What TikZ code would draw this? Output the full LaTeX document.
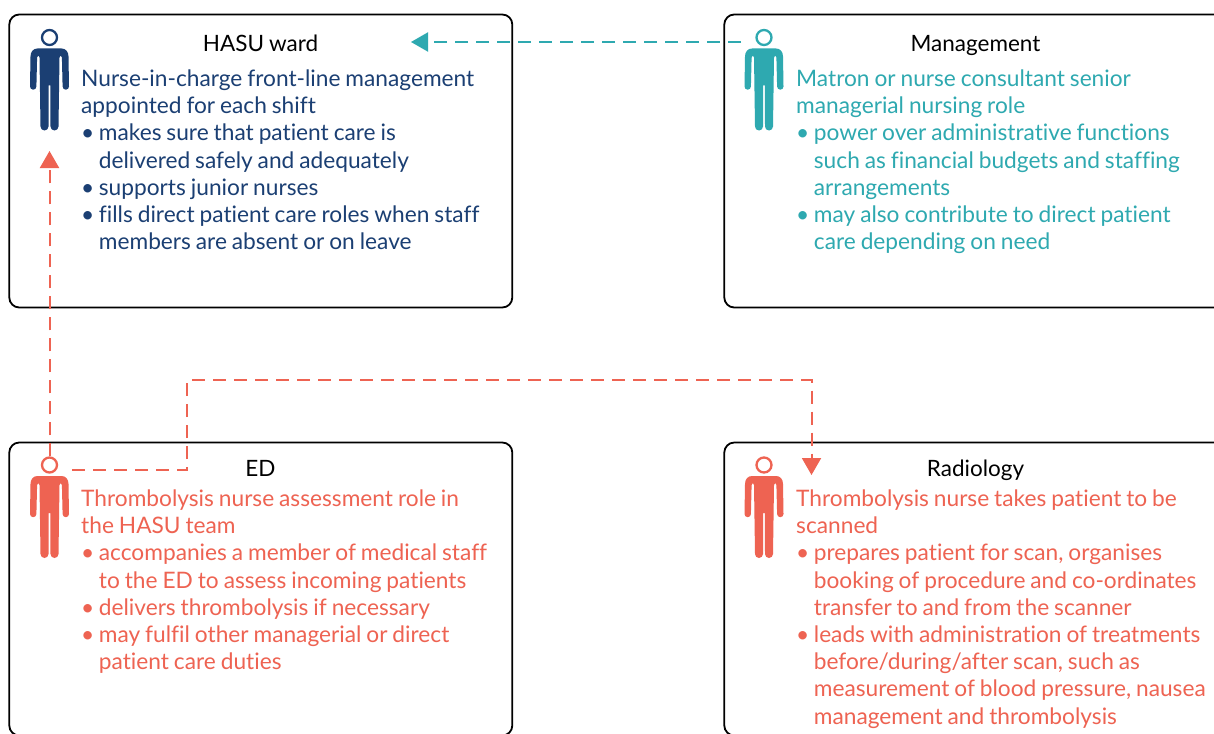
\documentclass[tikz,border=0pt]{standalone}
\usepackage{fontspec}
\setmainfont{Lato}[WordSpace=0.85,Ligatures=CommonOff]
\usetikzlibrary{arrows.meta}

\definecolor{navy}{HTML}{1B3F73}
\definecolor{teal}{HTML}{2EA9B0}
\definecolor{coral}{HTML}{EE6352}

\newcommand{\itm}{\makebox[17.7pt][l]{\textbullet}}
\newcommand{\cnt}{\hspace*{17.7pt}}

\tikzset{
  panel/.style={draw=black, fill=white, line width=1.8pt, rounded corners=10pt,
    minimum width=503pt, minimum height=293pt, anchor=north west},
  title/.style={text=black, anchor=base, font=\fontsize{22.5}{27.2}\selectfont},
  body/.style={anchor=north west, align=left, inner sep=0pt, font=\fontsize{22.7}{27.2}\selectfont},
  link/.style={line width=2pt, dash pattern=on 13pt off 8pt, -{Triangle[width=19pt,length=17pt]}},
  nurse/.pic={
    \node[circle, draw, line width=2.3pt, minimum size=15pt, inner sep=0pt] (-head) at (0,0) {};
    \fill (-19.5,49) -- (-19,19) .. controls (-19,14) and (-16,11) .. (-12,11)
      -- (12,11) .. controls (16,11) and (19,14) .. (19,19)
      -- (19.5,49) arc (0:180:3.2) -- (12.4,20) -- (11.2,18) -- (10,20)
      -- (9,89) arc (0:180:4) -- (0.8,48) -- (-0.8,48)
      -- (-1,89) arc (0:180:4) -- (-10,20) -- (-11.2,18) -- (-12.4,20)
      -- (-13.1,49) arc (0:180:3.2) -- cycle;
  }
}

\begin{document}
\begin{tikzpicture}[x=1pt, y=-1pt]
  \useasboundingbox (0,0) rectangle (1214,733);

  % boxes
  \node[panel] (hasu) at (8.4,13.6) {};
  \node[panel] (mgmt) at (723.4,13.6) {};
  \node[panel] (ed) at (8.4,441.6) {};
  \node[panel] (rad) at (723.4,441.6) {};

  \node[title] (hasuTitle) at (260.5,51.4) {HASU ward};
  \node[title] (mgmtTitle) at (975.5,51.4) {Management};
  \node[title] (edTitle) at (260.5,476) {ED};
  \node[title] (radTitle) at (975.5,476) {Radiology};

  % nurses
  \pic[navy] (hasuNurse) at (49.5,37.5) {nurse};
  \pic[teal] (mgmtNurse) at (764,37.5) {nurse};
  \pic[coral] (edNurse) at (49.5,465) {nurse};
  \pic[coral] (radNurse) at (764,465) {nurse};

  % text
  \node[body, text=navy] (hasuText) at (81,69.5) {Nurse-in-charge front-line management\\
    appointed for each shift\\
    \itm makes sure that patient care is\\
    \cnt delivered safely and adequately\\
    \itm supports junior nurses\\
    \itm fills direct patient care roles when staff\\
    \cnt members are absent or on leave};
  \node[body, text=teal] (mgmtText) at (796,69.5) {Matron or nurse consultant senior\\
    managerial nursing role\\
    \itm power over administrative functions\\
    \cnt such as financial budgets and staffing\\
    \cnt arrangements\\
    \itm may also contribute to direct patient\\
    \cnt care depending on need};
  \node[body, text=coral] (edText) at (81,489.5) {Thrombolysis nurse assessment role in\\
    the HASU team\\
    \itm accompanies a member of medical staff\\
    \cnt to the ED to assess incoming patients\\
    \itm delivers thrombolysis if necessary\\
    \itm may fulfil other managerial or direct\\
    \cnt patient care duties};
  \node[body, text=coral] (radText) at (796,489.5) {Thrombolysis nurse takes patient to be\\
    scanned\\
    \itm prepares patient for scan, organises\\
    \cnt booking of procedure and co-ordinates\\
    \cnt transfer to and from the scanner\\
    \itm leads with administration of treatments\\
    \cnt before/during/after scan, such as\\
    \cnt measurement of blood pressure, nausea\\
    \cnt management and thrombolysis};

  % links
  \coordinate (mgmtOut) at (741,42);
  \coordinate (hasuIn) at (411,42);
  \coordinate (hasuUp) at (49.5,151);
  \coordinate (edOut) at (72,470);
  \coordinate (edBend) at (187,380);
  \coordinate (radIn) at (811.5,475);

  \draw[link, teal] (mgmtOut) -- (hasuIn);
  \draw[link, coral] (edNurse-head) -- (hasuUp);
  \draw[link, coral] (edOut) -| (edBend) -| (radIn);
\end{tikzpicture}
\end{document}
